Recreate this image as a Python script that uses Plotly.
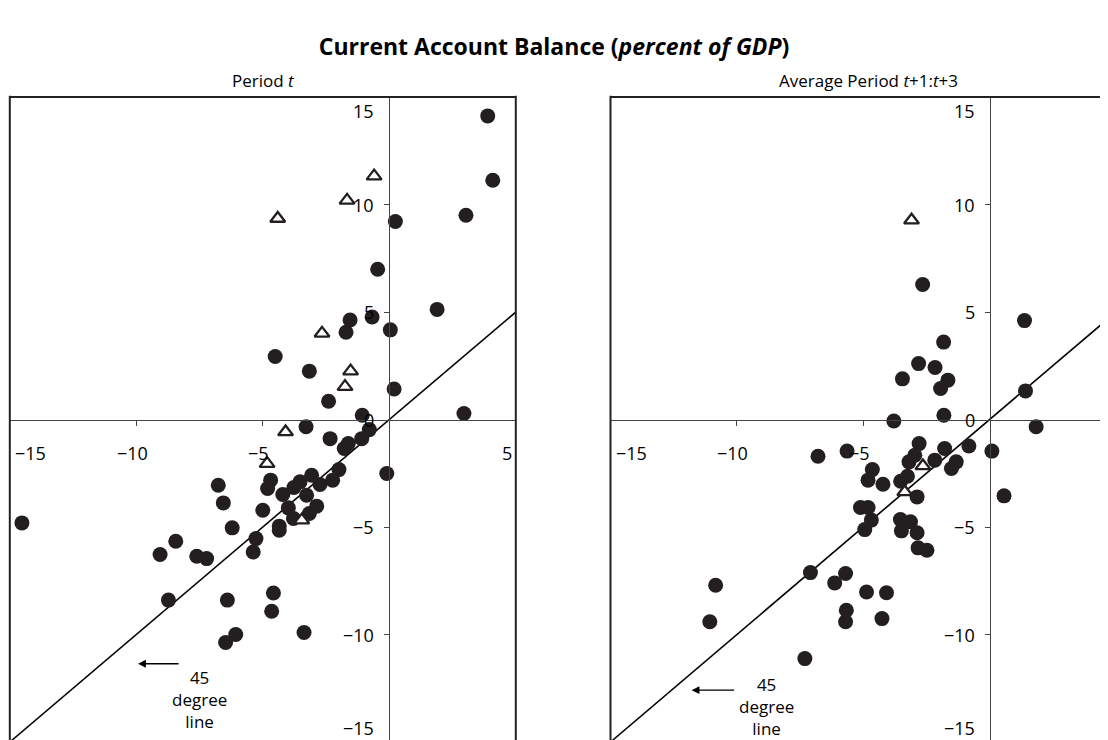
import plotly.graph_objects as go

# ---------------- data ----------------
# Left panel: Period t
left_circ_x = [3.89, 4.09, 3.03, 0.24, -0.46, 1.89, -0.68, -1.55, -1.71, 0.04, -4.51, -3.16, -2.40, 0.19,
               -1.07, 2.95, -3.29, -2.34, -0.79, -1.09, -1.62, -1.78, -0.10, -1.99, -2.24, -2.74, -3.07,
               -3.53, -3.77, -3.27, -4.21, -4.69, -4.81, -6.76, -6.56, -5.00, -3.99, -2.87, -3.16, -3.79,
               -4.35, -4.35, -6.21, -14.52, -8.44, -9.06, -7.61, -7.22, -5.27, -5.38, -8.73, -6.40, -4.58,
               -4.65, -6.07, -6.47, -3.37]
left_circ_y = [14.12, 11.13, 9.50, 9.21, 6.99, 5.12, 4.77, 4.63, 4.06, 4.17, 2.93, 2.25, 0.85, 1.42,
               0.20, 0.28, -0.34, -0.89, -0.47, -0.89, -1.12, -1.35, -2.51, -2.33, -2.82, -3.02, -2.59,
               -2.90, -3.16, -3.52, -3.49, -2.82, -3.21, -3.06, -3.88, -4.22, -4.11, -4.03, -4.37, -4.60,
               -4.96, -5.15, -5.04, -4.81, -5.66, -6.28, -6.36, -6.47, -5.54, -6.16, -8.40, -8.40, -8.07,
               -8.92, -10.00, -10.37, -9.91]
left_tri_x = [-0.60, -1.67, -4.41, -2.66, -1.53, -1.75, -4.10, -4.83, -3.46]
left_tri_y = [11.32, 10.19, 9.35, 4.01, 2.25, 1.53, -0.58, -2.05, -4.68]

# Right panel: Average Period t+1:t+3
right_circ_x = [1.38, -2.65, -1.82, -2.81, -2.16, -3.45, -1.65, -1.94, 1.42, -1.81, -3.79, 1.84,
                -6.79, -5.64, 0.09, -2.79, -1.78, -0.82, -2.96, -3.19, -2.17, -1.32, -1.51, -4.64,
                -4.81, -4.22, -3.25, -3.52, -2.87, 0.57, -5.11, -4.81, -4.68, -4.94, -3.53, -3.13,
                -3.49, -2.87, -2.83, -2.48, -7.09, -5.70, -6.13, -4.87, -4.08, -10.84, -11.07, -5.67,
                -5.70, -4.26, -7.31]
right_circ_y = [4.60, 6.28, 3.60, 2.60, 2.42, 1.89, 1.83, 1.44, 1.33, 0.20, -0.07, -0.34,
                -1.71, -1.47, -1.47, -1.12, -1.35, -1.23, -1.66, -1.97, -1.89, -1.97, -2.28, -2.33,
                -2.82, -3.01, -2.64, -2.87, -3.60, -3.55, -4.09, -4.09, -4.68, -5.12, -4.65, -4.76,
                -5.18, -5.27, -5.97, -6.08, -7.12, -7.16, -7.60, -8.02, -8.06, -7.71, -9.41, -8.87,
                -9.41, -9.26, -11.12]
right_tri_x = [-3.09, -2.64, -3.36]
right_tri_y = [9.27, -2.16, -3.37]

line45 = [-15, 5]
xtick_vals = [-15, -10, -5, 5]
ytick_vals = [15, 10, 5, 0, -5, -10, -15]
xtick_marks = [-10, -5]
ytick_marks = [-10, -5, 5, 10]

title_text = "<b>Current Account Balance (<i>percent of GDP</i>)</b>"
panel_titles = ["Period <i>t</i>", "Average Period <i>t</i>+1:<i>t</i>+3"]

# ---------------- layout geometry ----------------
W, H = 1108, 740
MT, MB = 89, 6
XR = [-15, 5]
YR = [-15, 15]
d1 = [1.8 / W, 507.8 / W]
d2 = [602.5 / W, 1.0]

INK = "#231f20"
FONT = "Open Sans"

def paper_x(v, dom, rng):
    return dom[0] + (v - rng[0]) / (rng[1] - rng[0]) * (dom[1] - dom[0])

fig = go.Figure()

panels = [
    ("x", "y", left_circ_x, left_circ_y, left_tri_x, left_tri_y),
    ("x2", "y2", right_circ_x, right_circ_y, right_tri_x, right_tri_y),
]
for xa, ya, cx, cy, tx, ty in panels:
    fig.add_trace(go.Scatter(x=line45, y=line45, mode="lines", xaxis=xa, yaxis=ya,
                             line=dict(color="black", width=1.6), hoverinfo="skip", showlegend=False))
    fig.add_trace(go.Scatter(x=cx, y=cy, mode="markers", xaxis=xa, yaxis=ya,
                             marker=dict(symbol="circle", size=15, color=INK, line=dict(width=0)),
                             showlegend=False))
    fig.add_trace(go.Scatter(x=tx, y=ty, mode="markers", xaxis=xa, yaxis=ya,
                             marker=dict(symbol="triangle-up", size=13, color="white",
                                         line=dict(color=INK, width=2.3)),
                             showlegend=False))

axis_common = dict(showgrid=False, zeroline=False, showticklabels=False, ticks="outside",
                   ticklen=5, tickwidth=1, tickcolor="#444", showline=True, linecolor="#444",
                   linewidth=1.2, fixedrange=True)

fig.update_layout(
    width=W, height=H,
    margin=dict(l=0, r=0, t=MT, b=MB),
    paper_bgcolor="white", plot_bgcolor="white",
    showlegend=False,
    title=dict(text=title_text, x=546 / W, xanchor="center", xref="container",
               y=1 - 39 / H, yref="container", yanchor="middle",
               font=dict(family=FONT, size=23, color="black")),
    xaxis=dict(domain=d1, range=XR, anchor="free", position=0.5, side="bottom",
               tickvals=xtick_marks, **axis_common),
    yaxis=dict(domain=[0, 1], range=YR, anchor="free", side="left",
               position=paper_x(0, d1, XR), tickvals=ytick_marks, **axis_common),
    xaxis2=dict(domain=d2, range=XR, anchor="free", position=0.5, side="bottom",
                tickvals=xtick_marks, **axis_common),
    yaxis2=dict(domain=[0, 1], range=YR, anchor="free", side="left",
                position=paper_x(0, d2, XR), tickvals=ytick_marks, **axis_common),
)

# panel frames (left, top, right edges)
shapes = []
box = dict(color="#222", width=2)
for dom in (d1, d2):
    shapes.append(dict(type="line", xref="paper", yref="paper", x0=dom[0], x1=dom[0], y0=-0.02, y1=1.002, line=box))
    shapes.append(dict(type="line", xref="paper", yref="paper", x0=dom[0], x1=dom[1], y0=1, y1=1, line=box))
    shapes.append(dict(type="line", xref="paper", yref="paper", x0=dom[1], x1=dom[1], y0=-0.02, y1=1.002, line=box))
fig.update_layout(shapes=shapes)

def lab(v):
    return ("\u2212" + str(abs(v))) if v < 0 else str(v)

tick_font = dict(family=FONT, size=18, color="black")
ann = []
for (xa, ya) in (("x", "y"), ("x2", "y2")):
    for v in xtick_vals:
        a = dict(text=lab(v), xref=xa, x=v, yref=ya, y=0, yanchor="middle", yshift=-33,
                 showarrow=False, font=tick_font)
        if v == -15:
            a.update(xanchor="left", xshift=3)
        elif v == 5:
            a.update(xanchor="right", xshift=-2)
        else:
            a.update(xanchor="center", xshift=-4)
        ann.append(a)
    for v in ytick_vals:
        a = dict(text=lab(v), xref=xa, x=0, xanchor="right", xshift=-13, yref=ya, y=v,
                 showarrow=False, font=tick_font)
        if v == 15:
            a.update(yanchor="top", yshift=0)
        elif v == -15:
            a.update(yanchor="bottom", yshift=0)
        else:
            a.update(yanchor="middle")
        ann.append(a)

# panel titles
for dom, t, sh in zip((d1, d2), panel_titles, (1, 5)):
    ann.append(dict(text=t, xref="paper", x=(dom[0] + dom[1]) / 2, xanchor="center", xshift=sh,
                    yref="paper", y=1 + (MT - 72) / (H - MT - MB), yanchor="middle", showarrow=False,
                    font=dict(family=FONT, size=17, color="black")))

# 45 degree line labels
lbl_font = dict(family=FONT, size=17, color="black")
for xa, ya, tail, head, ay, tx, ty in (("x", "y", -8.27, -9.93, -11.36, -7.52, -13.0),
                                        ("x2", "y2", -10.05, -11.79, -12.59, -8.83, -13.33)):
    ann.append(dict(xref=xa, yref=ya, x=head, y=ay, ax=tail, ay=ay, axref=xa, ayref=ya,
                    showarrow=True, arrowhead=2, arrowsize=1.2, arrowwidth=1.3, arrowcolor="black", text=""))
    ann.append(dict(xref=xa, yref=ya, x=tx, y=ty, text="45<br>degree<br>line", showarrow=False,
                    xanchor="center", yanchor="middle", align="center", font=lbl_font))

fig.update_layout(annotations=ann)

fig.write_html("out.html")
